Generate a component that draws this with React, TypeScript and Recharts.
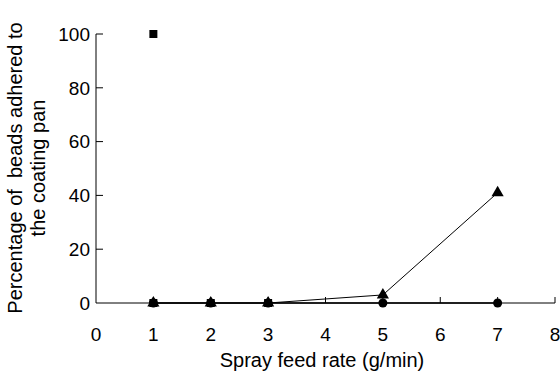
import React from 'react';
import { ScatterChart, Scatter, XAxis, YAxis, ZAxis } from 'recharts';

const xTicks = [0, 1, 2, 3, 4, 5, 6, 7, 8];
const yTicks = [0, 20, 40, 60, 80, 100];

const squareData = [
  { x: 1, y: 100 },
  { x: 1, y: 0 },
  { x: 2, y: 0 },
  { x: 3, y: 0 },
];
const triangleData = [
  { x: 1, y: 0 },
  { x: 2, y: 0 },
  { x: 3, y: 0 },
  { x: 5, y: 3 },
  { x: 7, y: 41 },
];
const circleData = [
  { x: 1, y: 0 },
  { x: 2, y: 0 },
  { x: 3, y: 0 },
  { x: 5, y: 0 },
  { x: 7, y: 0 },
];

// tick marks point into the plot, so they are drawn as marks at the axis positions
const xTickMarks = xTicks.filter((t) => t > 0).map((t) => ({ x: t, y: 0 }));
const yTickMarks = yTicks.filter((t) => t > 0).map((t) => ({ x: 0, y: t }));

const font = 'Liberation Sans, Arial, sans-serif';
const tickFont = { fill: '#000', fontSize: 19, fontFamily: font };

const UpTick = (props: any) => (
  <line x1={props.cx} y1={props.cy} x2={props.cx} y2={props.cy - 6} stroke="#000" strokeWidth={1} />
);
const RightTick = (props: any) => (
  <line x1={props.cx} y1={props.cy} x2={props.cx + 7} y2={props.cy} stroke="#000" strokeWidth={1} />
);

const YLabel = () => (
  <text
    transform="translate(22,168) rotate(-90)"
    textAnchor="middle"
    fontFamily={font}
    fontSize={20}
    fill="#000"
  >
    <tspan x={0} dy={0}>{'Percentage of\u00a0 beads adhered to'}</tspan>
    <tspan x={0} dy={23}>the coating pan</tspan>
  </text>
);

const XLabel = () => (
  <text x={322} y={367} textAnchor="middle" fontFamily={font} fontSize={20} fill="#000">
    Spray feed rate (g/min)
  </text>
);

export default function App() {
  return (
    <div style={{ position: 'absolute', left: 0, top: 0, background: '#fff' }}>
      <ScatterChart
        width={560}
        height={374}
        margin={{ top: 34, right: 5, bottom: 0, left: 0 }}
      >
        <XAxis
          type="number"
          dataKey="x"
          domain={[0, 8]}
          ticks={xTicks}
          interval={0}
          stroke="#000"
          tickLine={false}
          tickMargin={19}
          height={71}
          tick={tickFont}
          label={<XLabel />}
        />
        <YAxis
          type="number"
          dataKey="y"
          domain={[0, 100]}
          ticks={yTicks}
          interval={0}
          stroke="#000"
          tickLine={false}
          tickMargin={0}
          width={96}
          tick={tickFont}
          label={<YLabel />}
        />
        <ZAxis range={[85, 85]} />
        <Scatter data={xTickMarks} shape={<UpTick />} isAnimationActive={false} />
        <Scatter data={yTickMarks} shape={<RightTick />} isAnimationActive={false} />
        <Scatter
          data={circleData}
          fill="#000"
          shape="circle"
          line={{ stroke: '#000', strokeWidth: 1.5 }}
          isAnimationActive={false}
        />
        <Scatter
          data={triangleData}
          fill="#000"
          shape="triangle"
          line={{ stroke: '#000', strokeWidth: 1 }}
          isAnimationActive={false}
        />
        <Scatter
          data={squareData}
          fill="#000"
          shape="square"
          isAnimationActive={false}
        />
      </ScatterChart>
    </div>
  );
}
